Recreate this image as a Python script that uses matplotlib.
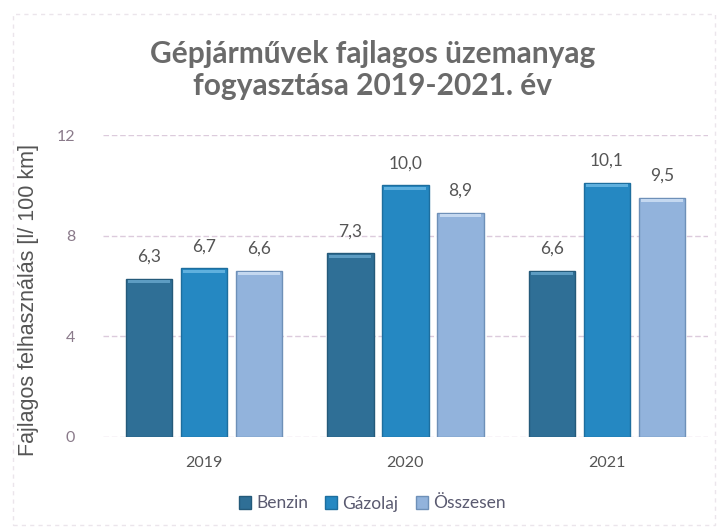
import matplotlib
matplotlib.use("Agg")
import matplotlib.pyplot as plt
import numpy as np
from matplotlib.patches import Rectangle

years = ["2019", "2020", "2021"]
series_names = ["Benzin", "Gázolaj", "Összesen"]
benzin = [6.3, 7.3, 6.6]
gazolaj = [6.7, 10.0, 10.1]
osszesen = [6.6, 8.9, 9.5]
yticks = [0, 4, 8, 12]

colors = ["#2f6f96", "#2588c2", "#92b3dc"]
edges = ["#245a7a", "#1d6e9e", "#6e90b8"]
highlights = ["#5d9cc2", "#5fb0de", "#c4d8f0"]

fig = plt.figure(figsize=(7.2, 5.3), dpi=100)
ax = fig.add_axes([0.143, 0.1755, 0.84, 0.5695])

x = np.arange(len(years))
width = 0.23
step = 0.273
all_series = [benzin, gazolaj, osszesen]
for i, (vals, name) in enumerate(zip(all_series, series_names)):
    pos = x + (i - 1) * step
    ax.bar(pos, vals, width, color=colors[i], edgecolor=edges[i],
           linewidth=1.0, label=name, zorder=3)
    # bevel highlight on top
    ax.bar(pos, [0.12] * len(vals), width * 0.9, bottom=[v - 0.17 for v in vals],
           color=highlights[i], linewidth=0, zorder=4)
    for p, v in zip(pos, vals):
        ax.text(p, v + 0.88, f"{v:.1f}".replace(".", ","), ha="center", va="center",
                fontsize=12.5, color="#555555", family="Lato", zorder=5)

ax.set_ylim(0, 12)
ax.set_xlim(-0.5, 2.5)
ax.set_yticks(yticks)
ax.set_yticklabels([str(t) for t in yticks], fontsize=11.5, color="#8a7a8a", family="Lato")
ax.set_xticks(x)
ax.set_xticklabels(years, fontsize=11.5, color="#555555", family="Lato")
ax.tick_params(axis="x", length=0, pad=14)
ax.tick_params(axis="y", length=0, pad=20)
for s in ax.spines.values():
    s.set_visible(False)
ax.grid(axis="y", color="#dccbdc", linewidth=1.0, linestyle=(0, (4, 2)), zorder=0)

ax.set_ylabel("Fajlagos felhasználás [l/ 100 km]", fontsize=15.5, color="#555555",
              family="Liberation Sans")
ax.yaxis.set_label_coords(-0.105, 0.454)

fig.text(0.518, 0.868, "Gépjárművek fajlagos üzemanyag\nfogyasztása 2019-2021. év",
         ha="center", va="center", fontsize=21.5, fontweight="bold", color="#6a6a6a",
         family="Lato", linespacing=1.2)

leg = fig.legend(*ax.get_legend_handles_labels(), loc="center", bbox_to_anchor=(0.517, 0.05),
                 ncol=3, frameon=False, handlelength=0.7, handleheight=0.7,
                 handletextpad=0.3, columnspacing=1.0,
                 prop={"family": "Lato", "size": 12.5})
for t in leg.get_texts():
    t.set_color("#5a5a70")

fig.patches.append(Rectangle((0.018, 0.01), 0.975, 0.963, transform=fig.transFigure,
                             fill=False, edgecolor="#ebe5eb", linewidth=1.0,
                             linestyle=(0, (3, 3))))

fig.savefig("out.png", dpi=100)
